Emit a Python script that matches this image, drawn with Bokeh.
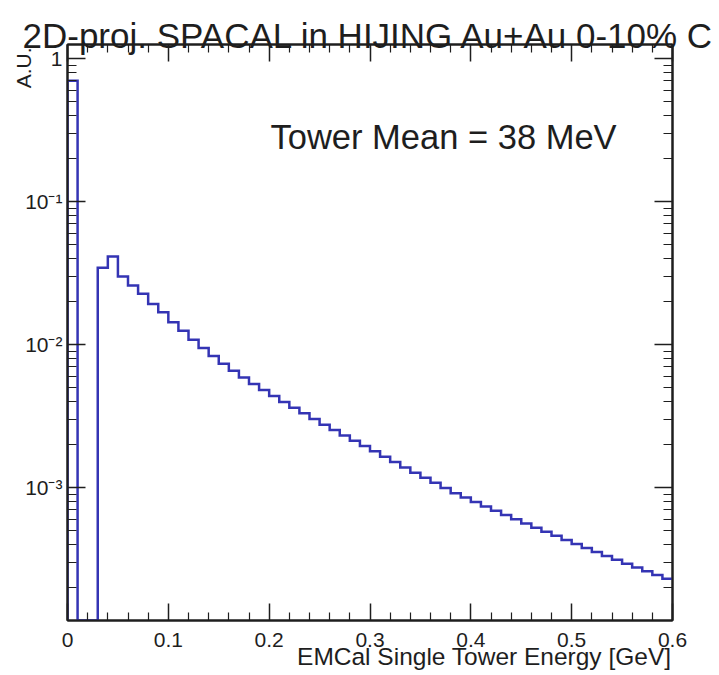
import numpy as np
from bokeh.plotting import figure
from bokeh.models import (Range1d, FixedTicker, LinearAxis, LogAxis, Label, Title,
                          CustomJSTickFormatter, ColumnDataSource)
from bokeh.embed import file_html
from bokeh.resources import INLINE

# ---------------- data ----------------
bin_width = 0.01
bin_low = [round(i * bin_width, 2) for i in range(60)]
counts = [
    0.70, 0.0, 0.0, 0.0344, 0.0412, 0.0299, 0.0259, 0.0226, 0.0192, 0.0168,
    0.0143, 0.0125, 0.0108, 0.00945, 0.00830, 0.00735, 0.00655, 0.00588, 0.00530, 0.00481,
    0.00437, 0.00397, 0.00361, 0.00330, 0.00301, 0.00275, 0.00252, 0.00231, 0.00212, 0.00195,
    0.00179, 0.00164, 0.00151, 0.00138, 0.00127, 0.00117, 0.00108, 0.000991, 0.000913, 0.000850,
    0.000792, 0.000738, 0.000689, 0.000643, 0.000600, 0.000561, 0.000524, 0.000490, 0.000459, 0.000430,
    0.000403, 0.000377, 0.000354, 0.000332, 0.000312, 0.000293, 0.000276, 0.000260, 0.000244, 0.000230,
]

x_start, x_end = 0.0, 0.6
y_start, y_end = 1.175e-4, 1.253

x_major = [0.0, 0.1, 0.2, 0.3, 0.4, 0.5, 0.6]
x_minor = [0.02, 0.04, 0.06, 0.08, 0.12, 0.14, 0.16, 0.18, 0.22, 0.24, 0.26, 0.28,
           0.32, 0.34, 0.36, 0.38, 0.42, 0.44, 0.46, 0.48, 0.52, 0.54, 0.56, 0.58]
y_major = [1e-4, 1e-3, 1e-2, 1e-1, 1.0]
y_minor = [m * 10.0 ** e for e in range(-4, 1) for m in range(2, 10)]

title_text = "2D-proj. SPACAL in HIJING Au+Au 0-10% C"
x_title = "EMCal Single Tower Energy [GeV]"
y_title = "A.U."
note_text = "Tower Mean = 38 MeV"

# ---------------- histogram outline path ----------------
edges = bin_low + [x_end]
xs, ys = [edges[0]], [y_start]
for i, c in enumerate(counts):
    v = c if c > y_start else y_start
    xs += [edges[i], edges[i + 1]]
    ys += [v, v]
src = ColumnDataSource(dict(x=xs, y=ys))

FONT = "Liberation Sans"
INK = "#1e1e1e"

p = figure(width=719, height=675, output_backend="svg", toolbar_location=None,
           x_range=Range1d(x_start, x_end), y_range=Range1d(y_start, y_end),
           y_axis_type="log",
           min_border_left=67, min_border_right=47, min_border_top=44, min_border_bottom=55)
p.xgrid.visible = False
p.ygrid.visible = False
p.outline_line_color = INK
p.outline_line_width = 2
p.background_fill_color = "white"
p.border_fill_color = "white"

bottom_ax = p.below[0]
left_ax = p.left[0]

p.line("x", "y", source=src, line_color="#3434b4", line_width=2.5, line_join="miter")

blank = CustomJSTickFormatter(code="return '';")
xfmt = CustomJSTickFormatter(code="return tick == 0 ? '0' : tick.toFixed(1);")
yfmt = CustomJSTickFormatter(code="""
const e = Math.round(Math.log10(tick));
if (e == 0) return '1';
const sup = {'-':'\u207b','0':'\u2070','1':'\u00b9','2':'\u00b2','3':'\u00b3','4':'\u2074'};
return '10' + String(e).split('').map(c => sup[c]).join('');
""")

top_ax = LinearAxis()
right_ax = LogAxis()
p.add_layout(top_ax, "above")
p.add_layout(right_ax, "right")

for ax in [bottom_ax, top_ax]:
    ax.ticker = FixedTicker(ticks=x_major, minor_ticks=x_minor)
    ax.major_tick_in = 17
    ax.minor_tick_in = 8
for ax in [left_ax, right_ax]:
    ax.ticker = FixedTicker(ticks=y_major, minor_ticks=y_minor)
    ax.major_tick_in = 18
    ax.minor_tick_in = 9

for ax in [bottom_ax, top_ax, left_ax, right_ax]:
    ax.major_tick_out = 0
    ax.minor_tick_out = 0
    ax.axis_line_color = INK
    ax.axis_line_width = 2
    ax.major_tick_line_color = INK
    ax.major_tick_line_width = 1.5
    ax.minor_tick_line_color = INK
    ax.minor_tick_line_width = 1.2
    ax.major_label_text_font = FONT
    ax.major_label_text_font_size = "21px"
    ax.major_label_text_color = INK

bottom_ax.formatter = xfmt
bottom_ax.major_label_standoff = 12
left_ax.formatter = yfmt
left_ax.major_label_standoff = 5
for ax in [top_ax, right_ax]:
    ax.formatter = blank
    ax.major_label_text_font_size = "1px"
    ax.major_label_standoff = 0

# main title (outermost in the top panel, pulled down onto the frame)
p.title.text = title_text
p.title.align = "left"
p.title.offset = -45
p.title.standoff = -20
p.title.vertical_align = "bottom"
p.title.text_font = FONT
p.title.text_font_size = "35px"
p.title.text_font_style = "normal"
p.title.text_color = INK

# x-axis title, right aligned under the axis
p.add_layout(Title(text=x_title, align="right", offset=1, standoff=-14, vertical_align="top",
                   text_font=FONT, text_font_size="24.5px", text_font_style="normal",
                   text_color=INK), "below")
# y-axis title, at the top of the left side
p.add_layout(Title(text=y_title, align="right", offset=3, standoff=-24, vertical_align="bottom",
                   text_font=FONT, text_font_size="21px", text_font_style="normal",
                   text_color=INK), "left")

# annotation inside the frame
p.add_layout(Label(x=203, y=484, x_units="screen", y_units="screen", text=note_text,
                   text_font=FONT, text_font_size="34.5px", text_color=INK,
                   text_align="left", text_baseline="alphabetic"))

open("out.html", "w").write(file_html(p, INLINE))
